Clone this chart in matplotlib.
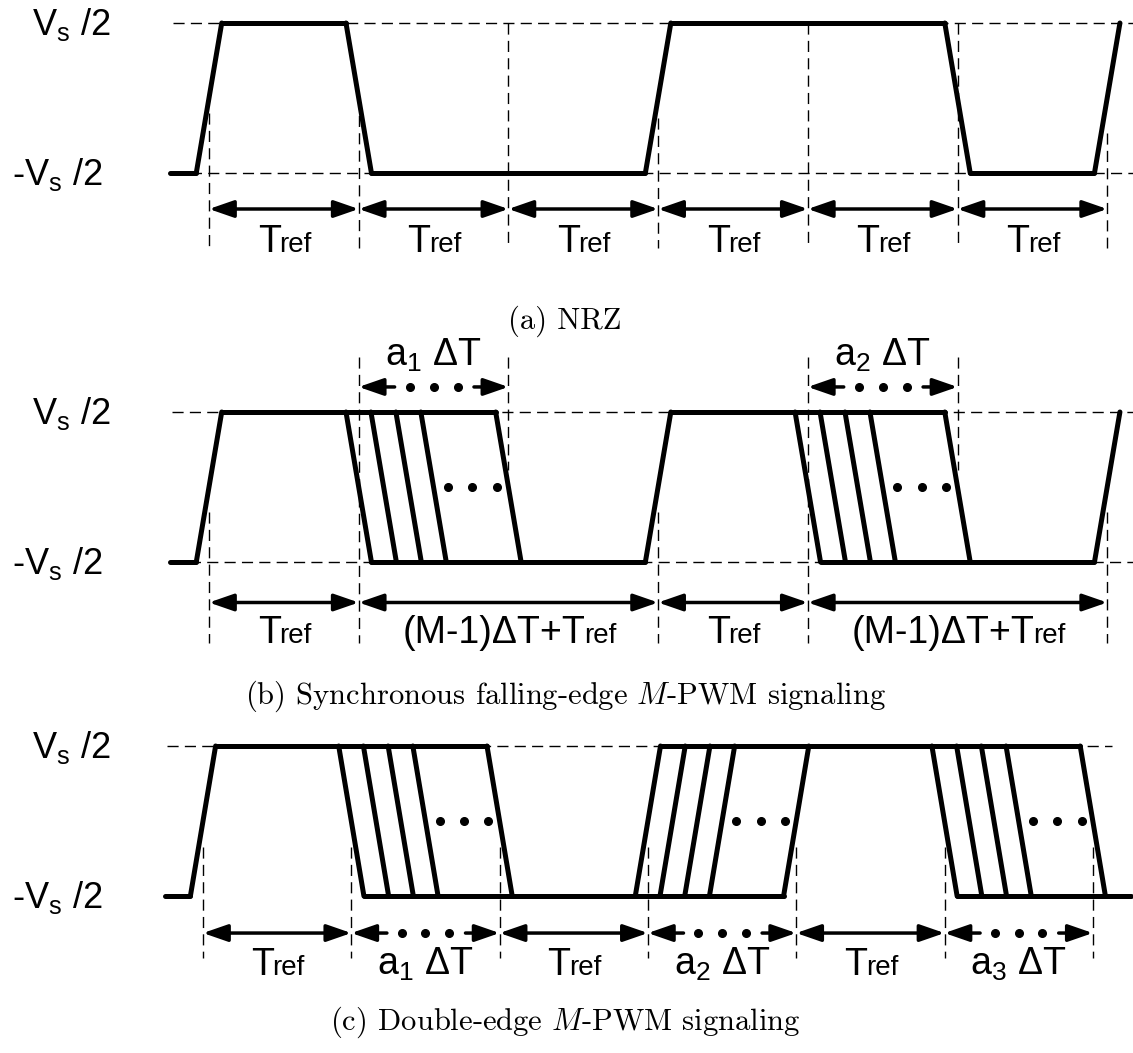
import numpy as np
import matplotlib.pyplot as plt
from matplotlib.patches import FancyArrowPatch

plt.rcParams['font.family'] = ['Liberation Sans', 'DejaVu Sans']
plt.rcParams['mathtext.fontset'] = 'custom'
plt.rcParams['mathtext.rm'] = 'Liberation Sans'
plt.rcParams['mathtext.it'] = 'Liberation Sans:italic'

W, H = 1133, 1053
DT = 1 / 6      # Delta T, in units of Tref
RISE = 0.17     # edge transition width, in Tref

# transitions: (time in Tref, +1 rise / -1 fall, offsets in Delta T)
pwm_steps = [0, 1, 2, 3, 6]
nrz_edges = [(0, 1, [0]), (1, -1, [0]), (3, 1, [0]), (5, -1, [0]), (6, 1, [0])]
sync_edges = [(0, 1, [0]), (1, -1, pwm_steps), (3, 1, [0]), (4, -1, pwm_steps), (6, 1, [0])]
dbl_edges = [(0, 1, [0]), (1, -1, pwm_steps), (3, 1, pwm_steps), (5, -1, pwm_steps)]

# interval labels below each waveform: (start, end, big text, small text, dotted)
nrz_spans = [(i, i + 1, 'T', 'ref', False) for i in range(6)]
sync_spans = [(0, 1, 'T', 'ref', False), (1, 3, '(M-1)ΔT+T', 'ref', False),
              (3, 4, 'T', 'ref', False), (4, 6, '(M-1)ΔT+T', 'ref', False)]
sync_top_spans = [(1, 2, 'a$_1$ ΔT'), (4, 5, 'a$_2$ ΔT')]
dbl_spans = [(0, 1, 'T', 'ref', False), (1, 2, 'a$_1$ ΔT', '', True),
             (2, 3, 'T', 'ref', False), (3, 4, 'a$_2$ ΔT', '', True),
             (4, 5, 'T', 'ref', False), (5, 6, 'a$_3$ ΔT', '', True)]
sync_dots = [1, 4]
dbl_dots = [1, 3, 5]

captions = ['(a) NRZ', '(b) Synchronous falling-edge $M$-PWM signaling',
            '(c) Double-edge $M$-PWM signaling']

fig = plt.figure(figsize=(W / 100, H / 100), dpi=100)
renderer = fig.canvas.get_renderer()
SY = 150.0


def panel(x0, sx, ytop):
    ax = fig.add_axes([0, 0, 1, 1])
    ax.set_xlim(-x0 / sx, (W - x0) / sx)
    ax.set_ylim(0.5 - (H - ytop) / SY, 0.5 + ytop / SY)
    ax.axis('off')
    ax.patch.set_alpha(0)
    ax.sx = sx
    return ax


def waveform(ax, edges, t_start, t_end):
    kw = dict(color='k', lw=3.6, solid_capstyle='round', solid_joinstyle='round', zorder=3)
    level = -0.5 if edges[0][1] > 0 else 0.5
    seg = t_start
    for t0, d, steps in edges:
        cs = [t0 + s * DT for s in steps]
        y0, y1 = (-0.5, 0.5) if d > 0 else (0.5, -0.5)
        ax.plot([seg, max(cs) - RISE / 2], [y0, y0], **kw)
        for c in cs:
            ax.plot([c - RISE / 2, c + RISE / 2], [y0, y1], **kw)
        seg = min(cs) + RISE / 2
        level = y1
    if t_end > seg:
        ax.plot([seg, t_end], [level, level], **kw)


def dashed(ax, xs, ys):
    ax.plot(xs, ys, color='k', lw=1.0, dashes=(8, 4.5), zorder=1)


def arrow(ax, a, b, y, style='<|-|>'):
    ax.add_patch(FancyArrowPatch((a, y), (b, y),
                                 arrowstyle=style + ',head_length=0.75,head_width=0.26',
                                 mutation_scale=20, lw=2.5, color='k',
                                 shrinkA=0, shrinkB=0, zorder=3))


def dotted_arrow(ax, a, b, y):
    arrow(ax, a + 0.24 * (b - a), a, y, '-|>')
    arrow(ax, a + 0.77 * (b - a), b, y, '-|>')
    ax.plot([a + 0.34 * (b - a), a + 0.5 * (b - a), a + 0.66 * (b - a)], [y] * 3,
            'o', color='k', ms=5.5, zorder=3)


def label(ax, t, y, big, small, fs_big=27, fs_small=20):
    if not small:
        ax.text(t, y, big, fontsize=fs_big, ha='center', va='baseline')
        return
    tb = ax.text(t, y, big, fontsize=fs_big, ha='right', va='baseline')
    ts = ax.text(t, y, small, fontsize=fs_small, ha='left', va='baseline')
    wb = tb.get_window_extent(renderer).width
    ws = ts.get_window_extent(renderer).width
    t2 = t + (wb - ws) / 2 / ax.sx
    tb.set_x(t2 + 1.5 / ax.sx)
    ts.set_x(t2)


def level_labels(ax):
    tr = ax.get_yaxis_transform()
    ax.text(32 / W, 0.5 - 0.08, r'V$_\mathrm{s}$ /2', fontsize=26,
            transform=tr, ha='left', va='baseline')
    ax.text(12 / W, -0.5 - 0.08, r'-V$_\mathrm{s}$ /2', fontsize=26,
            transform=tr, ha='left', va='baseline')


def wave_dots(ax, starts):
    for t0 in starts:
        ax.plot([t0 + 0.595, t0 + 0.76, t0 + 0.925], [0, 0, 0], 'o', color='k', ms=5.5, zorder=3)


# ---------------- (a) NRZ ----------------
ax = panel(209, 149.7, 23)
right = (W - 209) / 149.7
dashed(ax, [-0.24, right], [0.5, 0.5])
dashed(ax, [-0.24, right], [-0.5, -0.5])
for t, ytop in zip(range(7), [-0.1, 0.0, 0.5, -0.13, 0.5, 0.5, -0.23]):
    dashed(ax, [t, t], [ytop, -1.0])
waveform(ax, nrz_edges, -0.26, 6 + RISE / 2)
for a, b, big, small, dot in nrz_spans:
    arrow(ax, a, b, -0.74)
    label(ax, (a + b) / 2, -1.027, big, small)
level_labels(ax)

# ---------------- (b) synchronous falling-edge ----------------
ax = panel(209, 149.7, 412)
dashed(ax, [-0.25, right], [0.5, 0.5])
dashed(ax, [-0.25, right], [-0.5, -0.5])
for t, (y0, y1) in zip(range(7), [(-0.17, -1.04), (0.867, -1.04), (0.867, 0.11),
                                  (-0.17, -1.04), (0.867, -1.04), (0.867, 0.11),
                                  (-0.17, -1.04)]):
    dashed(ax, [t, t], [y0, y1])
waveform(ax, sync_edges, -0.26, 6 + RISE / 2)
wave_dots(ax, sync_dots)
for a, b, big, small, dot in sync_spans:
    arrow(ax, a, b, -0.77)
    label(ax, (a + b) / 2, -1.04, big, small)
for a, b, txt in sync_top_spans:
    dotted_arrow(ax, a, b, 0.667)
    label(ax, (a + b) / 2, 0.807, txt, '')
level_labels(ax)

# ---------------- (c) double-edge ----------------
ax = panel(203, 148.3, 746)
dashed(ax, [-0.24, 6.13], [0.5, 0.5])
for t in range(7):
    dashed(ax, [t, t], [-0.17, -0.913])
waveform(ax, dbl_edges, -0.256, 6.26)
wave_dots(ax, dbl_dots)
for a, b, big, small, dot in dbl_spans:
    if dot:
        dotted_arrow(ax, a, b, -0.747)
    else:
        arrow(ax, a, b, -0.747)
    label(ax, (a + b) / 2, -1.027, big, small)
level_labels(ax)

# ---------------- captions ----------------
for txt, y in zip(captions, [321, 696, 1022]):
    fig.text(565 / W, 1 - y / H, txt, fontsize=22, family='cmr10', math_fontfamily='cm',
             ha='center', va='center')

fig.savefig('out.png', dpi=100)
